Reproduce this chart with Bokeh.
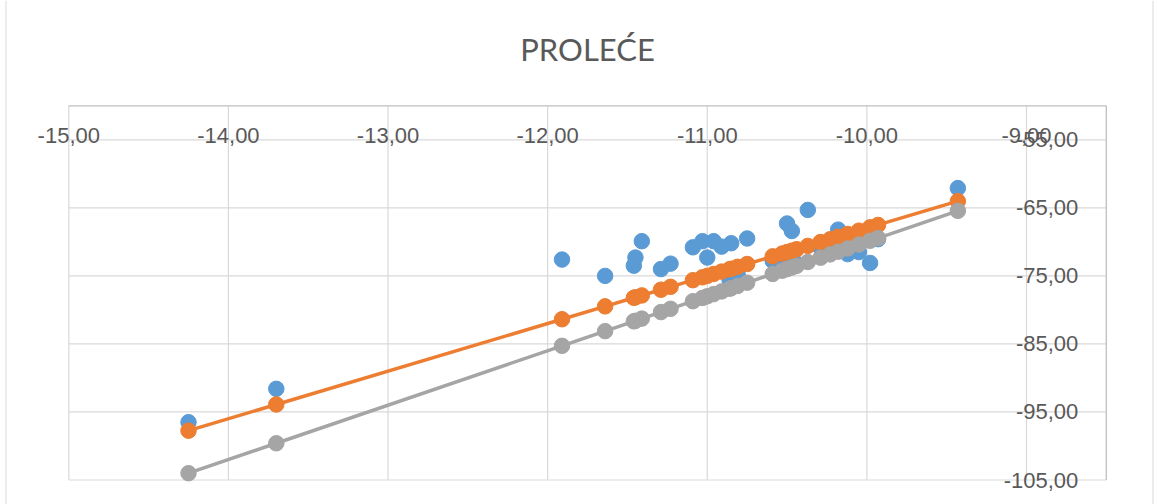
from bokeh.plotting import figure
from bokeh.models import Range1d, ColumnDataSource
from bokeh.core.properties import value
from bokeh.embed import file_html
from bokeh.resources import INLINE

title_text = "PROLEĆE"

# shared x values (delta 18O)
x_vals = [-14.25, -13.70, -11.91, -11.64, -11.46, -11.45, -11.41, -11.29, -11.23,
          -11.09, -11.03, -11.00, -10.96, -10.91, -10.86, -10.85, -10.81, -10.75,
          -10.59, -10.53, -10.50, -10.47, -10.44, -10.37, -10.29, -10.23, -10.18,
          -10.12, -10.05, -9.98, -9.93, -9.43]
# measured (blue)
blue_y = [-96.5, -91.6, -72.6, -75.0, -73.5, -72.3, -69.9, -74.0, -73.2,
          -70.8, -69.9, -72.3, -69.9, -70.7, -75.6, -70.2, -74.8, -69.5,
          -72.8, -73.0, -67.3, -68.4, -73.2, -65.3, -70.9, -71.0, -68.2,
          -71.8, -71.5, -73.1, -69.6, -62.1]
# local line (orange)
orange_y = [-97.75, -93.90, -81.37, -79.48, -78.22, -78.15, -77.87, -77.03, -76.61,
            -75.63, -75.21, -75.00, -74.72, -74.37, -74.02, -73.95, -73.67, -73.25,
            -72.13, -71.71, -71.50, -71.29, -71.08, -70.59, -70.03, -69.61, -69.26,
            -68.84, -68.35, -67.86, -67.51, -64.01]
# global line (gray)
gray_y = [-104.00, -99.60, -85.28, -83.12, -81.68, -81.60, -81.28, -80.32, -79.84,
          -78.72, -78.24, -78.00, -77.68, -77.28, -76.88, -76.80, -76.48, -76.00,
          -74.72, -74.24, -74.00, -73.76, -73.52, -72.96, -72.32, -71.84, -71.44,
          -70.96, -70.40, -69.84, -69.44, -65.44]

x_ticks = [-15, -14, -13, -12, -11, -10, -9]
x_tick_labels = ["-15,00", "-14,00", "-13,00", "-12,00", "-11,00", "-10,00", "-9,00"]
y_ticks = [-105, -95, -85, -75, -65, -55]
y_tick_labels = ["-105,00", "-95,00", "-85,00", "-75,00", "-65,00", "-55,00"]

# axis limits of the plot area
X_MIN, X_MAX = -15.0, -8.5
Y_MIN, Y_MAX = -105.0, -50.0

BLUE = "#5B9BD5"
ORANGE = "#ED7D31"
GRAY = "#A5A5A5"
TXT = "#595959"
GRID = "#d9d9d9"
BORDER = "#bfbfbf"

# canvas layout (pixels)
W, H = 1158, 504
PLOT_L, PLOT_R = 68.3, 1105.8     # pixel x of X_MIN, X_MAX
PLOT_T, PLOT_B = 105.3, 479.5     # pixel y of Y_MAX, Y_MIN
CHART_L, CHART_R = 5.5, 1152.5    # chart-area border lines
sx = (PLOT_R - PLOT_L) / (X_MAX - X_MIN)
sy = (PLOT_B - PLOT_T) / (Y_MAX - Y_MIN)
xr = Range1d(X_MIN - PLOT_L / sx, X_MAX + (W - PLOT_R) / sx)
yr = Range1d(Y_MIN - (H - PLOT_B) / sy, Y_MAX + PLOT_T / sy)

p = figure(width=W, height=H, output_backend="svg", toolbar_location=None,
           x_range=xr, y_range=yr, min_border=0)
p.xaxis.visible = False
p.yaxis.visible = False
p.grid.visible = False
p.outline_line_color = None
p.background_fill_color = "white"
p.border_fill_color = "white"

# chart-area border (left / right)
cx = [X_MIN - (PLOT_L - CHART_L) / sx, X_MAX + (CHART_R - PLOT_R) / sx]
p.segment(x0=cx, x1=cx, y0=[yr.start] * 2, y1=[yr.end] * 2, line_color=GRID, line_width=1)

# grid lines
p.segment(x0=x_ticks, x1=x_ticks, y0=[Y_MIN] * len(x_ticks), y1=[Y_MAX] * len(x_ticks),
          line_color=GRID, line_width=1.2)
p.segment(x0=[X_MIN] * len(y_ticks), x1=[X_MAX] * len(y_ticks), y0=y_ticks, y1=y_ticks,
          line_color=GRID, line_width=1.2)
# axis lines (top and right edges of the plot area)
p.segment(x0=[X_MIN, X_MAX], x1=[X_MAX, X_MAX], y0=[Y_MAX, Y_MIN], y1=[Y_MAX, Y_MAX],
          line_color=BORDER, line_width=1.3)

# title
p.text(x=[(X_MIN + X_MAX) / 2], y=[Y_MAX], text=[title_text], text_align="center",
       text_baseline="alphabetic", y_offset=-57, text_font=value("Lato"),
       text_font_size="31px", text_color=TXT)

# x tick labels along the top grid line, inside the plot
xs = ColumnDataSource(dict(x=x_ticks, y=[max(y_ticks)] * len(x_ticks), t=x_tick_labels))
p.text(x="x", y="y", text="t", source=xs, text_align="center", text_baseline="middle",
       y_offset=-4, text_font=value("Liberation Sans"), text_font_size="22px", text_color=TXT)
# y tick labels near right edge
ys = ColumnDataSource(dict(x=[X_MAX] * len(y_ticks), y=y_ticks, t=y_tick_labels))
p.text(x="x", y="y", text="t", source=ys, text_align="right", text_baseline="middle",
       x_offset=-28, text_font=value("Liberation Sans"), text_font_size="22px", text_color=TXT)

p.scatter(x_vals, blue_y, size=15.5, color=BLUE)
p.line(x_vals, orange_y, line_width=3.5, color=ORANGE)
p.scatter(x_vals, orange_y, size=15.5, color=ORANGE)
p.line(x_vals, gray_y, line_width=3.5, color=GRAY)
p.scatter(x_vals, gray_y, size=15.5, color=GRAY)

open("out.html", "w").write(file_html(p, INLINE))
